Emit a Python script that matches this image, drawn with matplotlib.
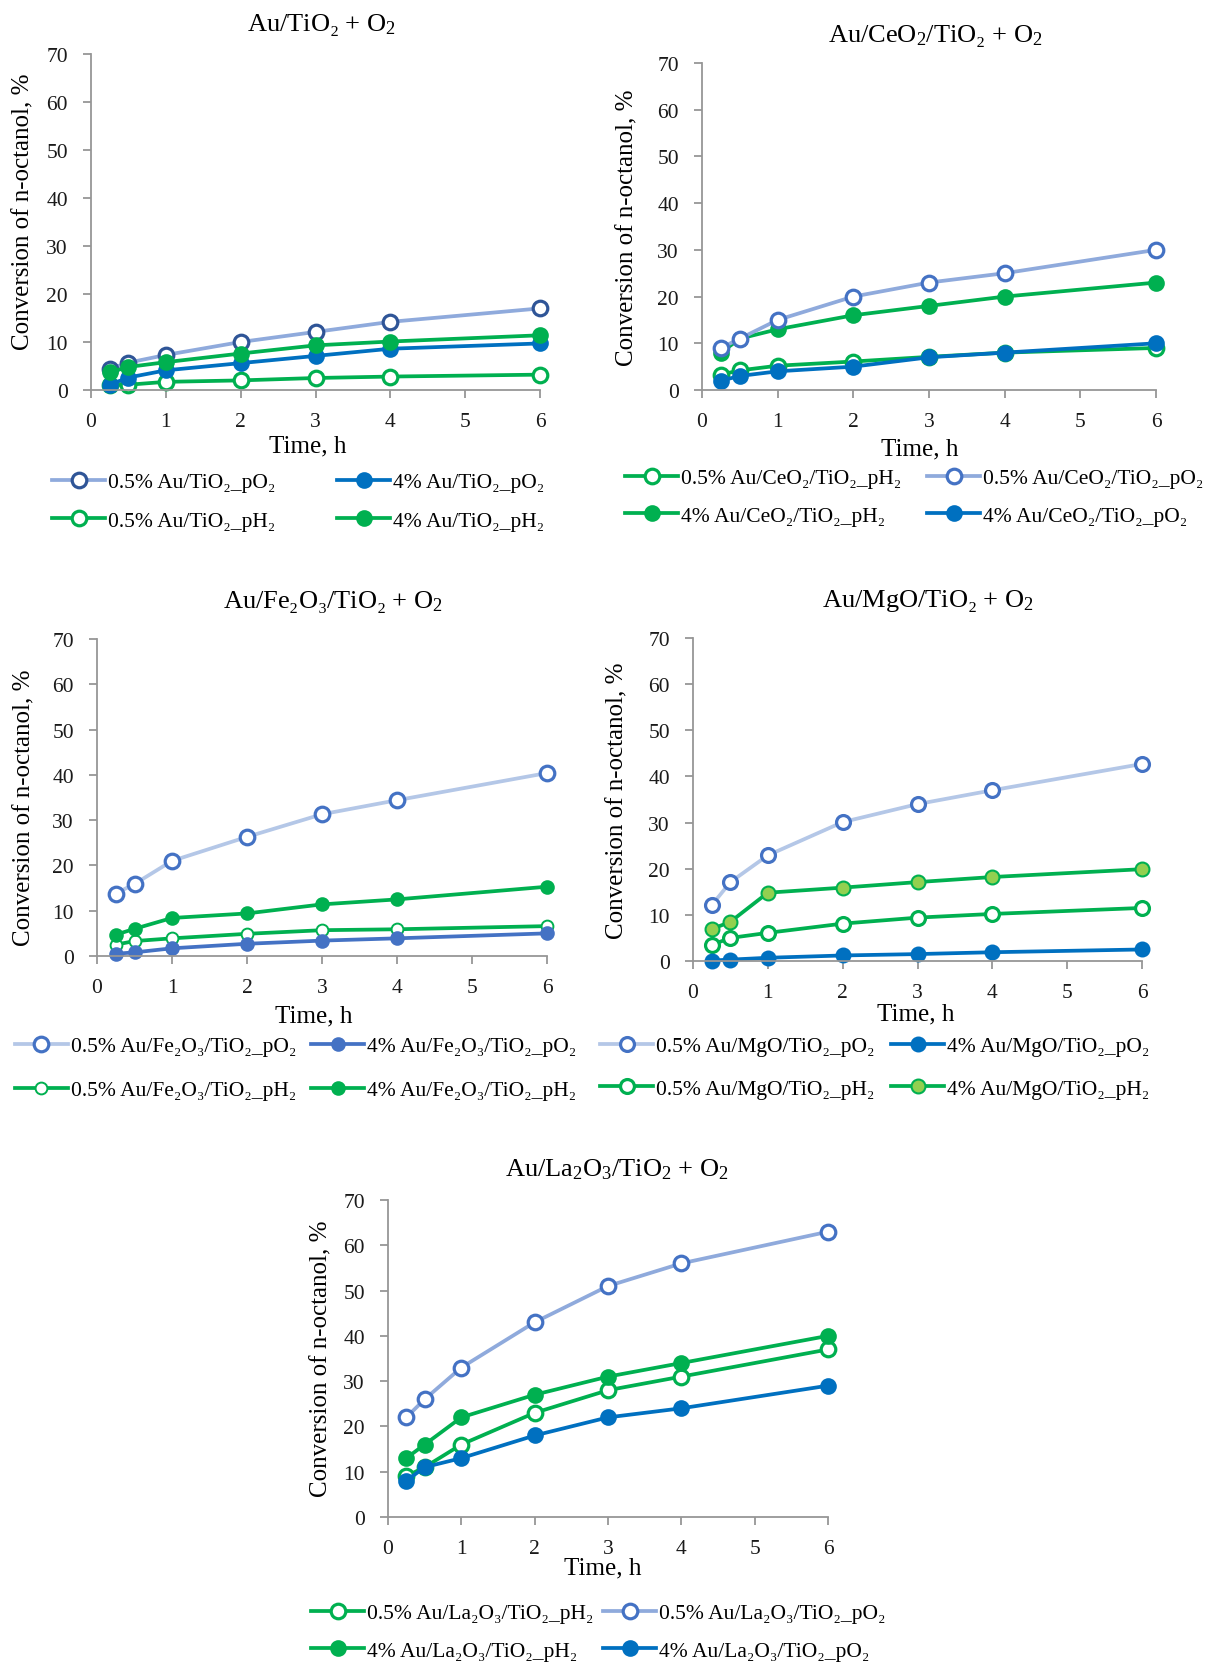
import matplotlib
matplotlib.use("Agg")
import matplotlib.pyplot as plt

plt.rcParams["font.family"] = ["Liberation Serif", "DejaVu Serif"]
plt.rcParams["mathtext.fontset"] = "custom"
plt.rcParams["mathtext.rm"] = "Liberation Serif"
plt.rcParams["mathtext.it"] = "Liberation Serif:italic"

W, H = 1205, 1665

# reaction time, h
time_h = [0.25, 0.5, 1, 2, 3, 4, 6]

# conversion of n-octanol, %
tio2_05_po2 = [4.4, 5.7, 7.3, 10.0, 12.1, 14.2, 17.0]
tio2_4_po2 = [1.1, 2.6, 4.1, 5.6, 7.1, 8.6, 9.7]
tio2_05_ph2 = [1.0, 1.1, 1.7, 2.0, 2.5, 2.8, 3.2]
tio2_4_ph2 = [3.7, 4.8, 5.8, 7.6, 9.3, 10.1, 11.4]

ceo2_05_ph2 = [3.3, 4.2, 5.2, 6.1, 7.1, 8.0, 9.0]
ceo2_05_po2 = [9.0, 11.0, 15.0, 20.0, 23.0, 25.0, 30.0]
ceo2_4_ph2 = [8.0, 11.0, 13.0, 16.0, 18.0, 20.0, 23.0]
ceo2_4_po2 = [2.0, 3.0, 4.0, 5.0, 7.0, 8.0, 10.0]

fe2o3_05_po2 = [13.8, 15.9, 21.0, 26.3, 31.3, 34.4, 40.4]
fe2o3_4_po2 = [0.5, 0.8, 1.7, 2.7, 3.4, 3.9, 5.0]
fe2o3_05_ph2 = [2.5, 3.3, 3.9, 4.9, 5.7, 5.9, 6.6]
fe2o3_4_ph2 = [4.7, 6.0, 8.4, 9.4, 11.4, 12.5, 15.3]

mgo_05_po2 = [12.1, 17.1, 22.9, 30.1, 34.0, 37.0, 42.7]
mgo_4_po2 = [0.1, 0.3, 0.7, 1.2, 1.5, 1.9, 2.5]
mgo_05_ph2 = [3.5, 5.0, 6.1, 8.1, 9.4, 10.2, 11.5]
mgo_4_ph2 = [6.9, 8.5, 14.8, 15.9, 17.1, 18.2, 19.9]

la2o3_05_ph2 = [9.0, 11.0, 16.0, 23.0, 28.0, 31.0, 37.0]
la2o3_05_po2 = [22.0, 26.0, 33.0, 43.0, 51.0, 56.0, 63.0]
la2o3_4_ph2 = [13.0, 16.0, 22.0, 27.0, 31.0, 34.0, 40.0]
la2o3_4_po2 = [8.0, 11.0, 13.0, 18.0, 22.0, 24.0, 29.0]

GREEN = "#00B050"
BLUE = "#0070C0"
STEEL = "#4472C4"
LIGHT = "#8FAADC"
PALE = "#B4C7E7"
NAVY = "#2F5597"
LIME = "#92D050"
AXIS_GREY = "#969696"


def open_style(line, edge, ms=10.5, mew=2.3):
    return dict(color=line, marker="o", mfc="white", mec=edge, ms=ms, mew=mew)


def solid_style(line, face=None, edge=None, ms=10.5):
    return dict(color=line, marker="o", mfc=face or line, mec=edge or line, ms=ms, mew=1.5)


# series are listed column by column: [row1 col1, row2 col1, row1 col2, row2 col2]
panels = [
    dict(
        box=(91, 55, 540, 391), title="Au/TiO₂ + O$_2$", title_xy=(321, 25),
        ylab=(23, 212), xlab=(308, 446),
        series=[
            ("0.5% Au/TiO₂_pO₂", tio2_05_po2, open_style(LIGHT, NAVY)),
            ("0.5% Au/TiO₂_pH₂", tio2_05_ph2, open_style(GREEN, GREEN)),
            ("4% Au/TiO₂_pO₂", tio2_4_po2, solid_style(BLUE)),
            ("4% Au/TiO₂_pH₂", tio2_4_ph2, solid_style(GREEN)),
        ],
        leg=(52, 337, 485, 42),
    ),
    dict(
        box=(702, 64, 1156, 391), title="Au/CeO$_2$/TiO₂ + O$_2$", title_xy=(935, 36),
        ylab=(627, 228), xlab=(920, 449),
        series=[
            ("0.5% Au/CeO₂/TiO₂_pH₂", ceo2_05_ph2, open_style(GREEN, GREEN)),
            ("4% Au/CeO₂/TiO₂_pH₂", ceo2_4_ph2, solid_style(GREEN)),
            ("0.5% Au/CeO₂/TiO₂_pO₂", ceo2_05_po2, open_style(LIGHT, STEEL)),
            ("4% Au/CeO₂/TiO₂_pO₂", ceo2_4_po2, solid_style(BLUE)),
        ],
        leg=(625, 927, 481, 41),
    ),
    dict(
        box=(97, 640, 547, 957), title="Au/Fe₂O₃/TiO₂ + O$_2$", title_xy=(333, 602),
        ylab=(24, 808), xlab=(314, 1016),
        series=[
            ("0.5% Au/Fe₂O₃/TiO₂_pO₂", fe2o3_05_po2, open_style(PALE, STEEL)),
            ("0.5% Au/Fe₂O₃/TiO₂_pH₂", fe2o3_05_ph2, open_style(GREEN, GREEN, ms=8.5, mew=1.4)),
            ("4% Au/Fe₂O₃/TiO₂_pO₂", fe2o3_4_po2, solid_style(STEEL, ms=9)),
            ("4% Au/Fe₂O₃/TiO₂_pH₂", fe2o3_4_ph2, solid_style(GREEN, ms=9)),
        ],
        leg=(15, 311, 1049, 47.5),
    ),
    dict(
        box=(693, 639, 1142, 962), title="Au/MgO/TiO₂ + O$_2$", title_xy=(928, 601),
        ylab=(617, 801), xlab=(916, 1014),
        series=[
            ("0.5% Au/MgO/TiO₂_pO₂", mgo_05_po2, open_style(PALE, STEEL, ms=10)),
            ("0.5% Au/MgO/TiO₂_pH₂", mgo_05_ph2, open_style(GREEN, GREEN, ms=10)),
            ("4% Au/MgO/TiO₂_pO₂", mgo_4_po2, solid_style(BLUE, ms=10)),
            ("4% Au/MgO/TiO₂_pH₂", mgo_4_ph2, solid_style(GREEN, LIME, GREEN, ms=10)),
        ],
        leg=(600, 891, 1049, 46),
    ),
    dict(
        box=(388, 1201, 828, 1518), title="Au/La$_2$O$_3$/TiO$_2$ + O$_2$", title_xy=(617, 1170),
        ylab=(321, 1359), xlab=(603, 1568),
        series=[
            ("0.5% Au/La₂O₃/TiO₂_pH₂", la2o3_05_ph2, open_style(GREEN, GREEN)),
            ("4% Au/La₂O₃/TiO₂_pH₂", la2o3_4_ph2, solid_style(GREEN)),
            ("0.5% Au/La₂O₃/TiO₂_pO₂", la2o3_05_po2, open_style(LIGHT, STEEL)),
            ("4% Au/La₂O₃/TiO₂_pO₂", la2o3_4_po2, solid_style(BLUE)),
        ],
        leg=(311, 603, 1616, 41),
    ),
]

fig = plt.figure(figsize=(W / 100, H / 100), dpi=100)

LEG_FS = 15.5
fs_px = LEG_FS * 100 / 72

for p in panels:
    x0, y0, x1, y1 = p["box"]
    ax = fig.add_axes([x0 / W, 1 - y1 / H, (x1 - x0) / W, (y1 - y0) / H])
    handles = []
    for label, values, style in p["series"]:
        (ln,) = ax.plot(time_h, values, lw=2.7, label=label, clip_on=False, **style)
        handles.append(ln)

    ax.set_xlim(0, 6)
    ax.set_ylim(0, 70)
    ax.set_xticks(range(0, 7))
    ax.set_yticks(range(0, 71, 10))
    for side in ("top", "right"):
        ax.spines[side].set_visible(False)
    for side in ("left", "bottom"):
        ax.spines[side].set_color(AXIS_GREY)
        ax.spines[side].set_linewidth(1.3)
    ax.tick_params(direction="out", length=5.6, width=1.3, color=AXIS_GREY,
                   labelsize=15.5, labelcolor="#1a1a1a")
    ax.tick_params(axis="x", pad=10)
    ax.tick_params(axis="y", pad=11)

    tx, ty = p["title_xy"]
    fig.text(tx / W, 1 - ty / H, p["title"], ha="center", va="center", fontsize=19)
    yx, yy = p["ylab"]
    fig.text(yx / W, 1 - yy / H, "Conversion of n-octanol, %",
             rotation=90, ha="center", va="center", fontsize=18)
    lx, ly = p["xlab"]
    fig.text(lx / W, 1 - ly / H, "Time, h", ha="center", va="center", fontsize=18)

    # two one-column legends so each column starts where it does in the source
    hx1, hx2, row_y, pitch = p["leg"]
    row_h = 1.1 * fs_px
    for col, hx in enumerate((hx1, hx2)):
        leg = ax.legend(handles=handles[2 * col:2 * col + 2], loc="upper left",
                        bbox_to_anchor=(hx / W, 1 - (row_y - row_h / 2) / H),
                        bbox_transform=fig.transFigure, frameon=False,
                        borderpad=0, borderaxespad=0, fontsize=LEG_FS,
                        handlelength=53 / fs_px, handletextpad=0.15,
                        labelspacing=(pitch - row_h) / fs_px)
        if col == 0:
            ax.add_artist(leg)

fig.savefig("out.png", dpi=100)
